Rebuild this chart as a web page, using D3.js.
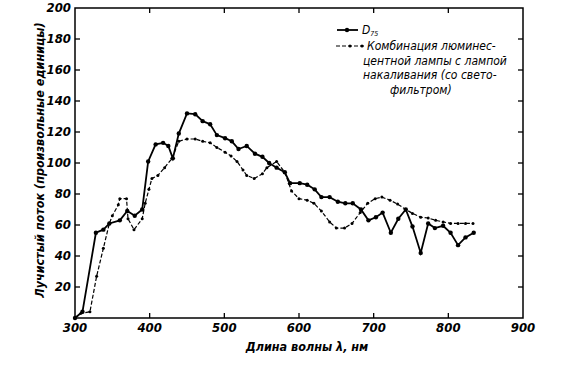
<!DOCTYPE html>
<html>
<head>
<meta charset="utf-8">
<script src="https://cdn.jsdelivr.net/npm/d3@7"></script>
<style>
  body { margin: 0; background: #fff; }
  svg { display: block; }
  text { font-family: "DejaVu Sans Condensed", "DejaVu Sans", sans-serif; font-style: italic; fill: #000; }
</style>
</head>
<body>
<svg id="chart" width="561" height="377"></svg>
<script>
// D75 curve (solid)
const d75Wave = [300, 310, 328, 338, 346, 360, 370, 380, 390, 398, 408, 418, 425, 431, 439, 450, 461, 471, 481, 490, 501, 510, 519, 530, 541, 551, 560, 570, 581, 588, 601, 611, 621, 630, 641, 652, 662, 672, 683, 693, 703, 712, 723, 733, 743, 752, 763, 773, 782, 793, 803, 813, 823, 834];
const d75Flux = [0, 4, 55, 57, 61, 63, 69, 66, 70, 101, 112, 113, 111, 103, 119, 132, 131.5, 127, 125, 118, 116, 114, 109, 111, 106, 104, 100, 97, 94, 87, 87, 86, 83, 78, 78, 75, 74, 74, 70, 63, 65, 68, 55, 64, 70, 59, 42, 61, 58, 59.5, 55, 47, 52, 55];

// fluorescent + incandescent lamp with filter (dashed)
const comboWave = [300, 308, 320, 329, 338, 346, 350, 358, 360, 369, 371, 379, 390, 394, 399, 403, 411, 420, 430, 439, 450, 461, 471, 481, 490, 501, 509, 517, 525, 530, 540, 551, 557, 570, 581, 590, 600, 611, 620, 630, 641, 650, 661, 671, 682, 692, 702, 711, 722, 732, 743, 752, 763, 773, 783, 793, 803, 813, 823, 833];
const comboFlux = [0, 3, 4, 27, 45, 61, 66, 73, 77, 77, 64, 57, 64, 74, 83, 90, 92, 97, 103, 114, 115.5, 115.5, 114, 113, 110, 107, 104.5, 101, 95.5, 92, 90, 93, 97, 101, 94, 82, 77, 76, 74, 69, 62, 58, 58, 61, 68, 74, 77, 78, 76, 73.5, 70, 67.5, 65, 64.5, 63, 62, 61, 61, 61, 61];

const xTicks = [300, 400, 500, 600, 700, 800, 900];
const yTicks = [20, 40, 60, 80, 100, 120, 140, 160, 180, 200];

const legendCombo = ["Комбинация люминес-", "центной лампы с лампой", "накаливания (со свето-", "фильтром)"];

const svg = d3.select("#chart");
const x = d3.scaleLinear().domain([300, 900]).range([75, 523]);
const y = d3.scaleLinear().domain([0, 200]).range([318, 8]);

// frame
svg.append("rect")
    .attr("x", x(300)).attr("y", y(200))
    .attr("width", x(900) - x(300)).attr("height", y(0) - y(200))
    .attr("fill", "none").attr("stroke", "#000").attr("stroke-width", 1.5);

// inward ticks on all four sides
const tickStyle = sel => sel.attr("stroke", "#000").attr("stroke-width", 1.3);
svg.append("g").selectAll("line").data(xTicks.slice(1, -1)).join("line")
    .attr("x1", d => x(d)).attr("x2", d => x(d))
    .attr("y1", y(0)).attr("y2", y(0) - 5).call(tickStyle);
svg.append("g").selectAll("line").data(xTicks.slice(1, -1)).join("line")
    .attr("x1", d => x(d)).attr("x2", d => x(d))
    .attr("y1", y(200)).attr("y2", y(200) + 5).call(tickStyle);
svg.append("g").selectAll("line").data(yTicks.slice(0, -1)).join("line")
    .attr("x1", x(300)).attr("x2", x(300) + 5)
    .attr("y1", d => y(d)).attr("y2", d => y(d)).call(tickStyle);
svg.append("g").selectAll("line").data(yTicks.slice(0, -1)).join("line")
    .attr("x1", x(900)).attr("x2", x(900) - 5)
    .attr("y1", d => y(d)).attr("y2", d => y(d)).call(tickStyle);

// tick labels
svg.append("g").selectAll("text").data(xTicks).join("text")
    .attr("x", d => x(d)).attr("y", y(0) + 14)
    .attr("text-anchor", "middle")
    .attr("font-size", 13).attr("font-weight", "bold")
    .text(d => d);
svg.append("g").selectAll("text").data(yTicks).join("text")
    .attr("x", x(300) - 4).attr("y", d => y(d) + 4)
    .attr("text-anchor", "end")
    .attr("font-size", 13).attr("font-weight", "bold")
    .text(d => d);

// axis titles
svg.append("text")
    .attr("x", 307).attr("y", 351)
    .attr("text-anchor", "middle")
    .attr("font-size", 12.5).attr("font-weight", "bold")
    .text("Длина волны λ, нм");
svg.append("text")
    .attr("transform", "translate(44,160) rotate(-90)")
    .attr("text-anchor", "middle")
    .attr("font-size", 12.5).attr("font-weight", "bold")
    .text("Лучистый поток (произвольные единицы)");

// curves
const d75 = d75Wave.map((w, i) => ({ w, v: d75Flux[i] }));
const combo = comboWave.map((w, i) => ({ w, v: comboFlux[i] }));
const line = d3.line().x(d => x(d.w)).y(d => y(d.v));

svg.append("path").datum(combo)
    .attr("d", line).attr("fill", "none")
    .attr("stroke", "#000").attr("stroke-width", 1.2)
    .attr("stroke-dasharray", "4,2");
svg.append("g").selectAll("circle").data(combo).join("circle")
    .attr("cx", d => x(d.w)).attr("cy", d => y(d.v)).attr("r", 1.5)
    .attr("fill", "#000");

svg.append("path").datum(d75)
    .attr("d", line).attr("fill", "none")
    .attr("stroke", "#000").attr("stroke-width", 1.8);
svg.append("g").selectAll("circle").data(d75).join("circle")
    .attr("cx", d => x(d.w)).attr("cy", d => y(d.v)).attr("r", 2.2)
    .attr("fill", "#000");

// legend
const lg = svg.append("g");
lg.append("line").attr("x1", 337).attr("x2", 358).attr("y1", 30).attr("y2", 30)
    .attr("stroke", "#000").attr("stroke-width", 1.8);
lg.append("circle").attr("cx", 347).attr("cy", 30).attr("r", 2.2).attr("fill", "#000");
const dt = lg.append("text").attr("x", 362).attr("y", 34).attr("font-size", 12).attr("font-style", "normal");
dt.append("tspan").text("D");
dt.append("tspan").attr("font-size", 7).attr("dy", 2).text("75");

lg.append("line").attr("x1", 336).attr("x2", 364).attr("y1", 46).attr("y2", 46)
    .attr("stroke", "#000").attr("stroke-width", 1.2).attr("stroke-dasharray", "4,2");
lg.append("circle").attr("cx", 350).attr("cy", 46).attr("r", 1.5).attr("fill", "#000");
lg.append("circle").attr("cx", 362).attr("cy", 46).attr("r", 1.5).attr("fill", "#000");
lg.selectAll("text.combo").data(legendCombo).join("text")
    .attr("class", "combo")
    .attr("x", (d, i) => i === 0 ? 367 : (i === 3 ? 390 : 363))
    .attr("y", (d, i) => 50 + i * 14.7)
    .attr("font-size", 12).attr("font-weight", "normal")
    .text(d => d);
</script>
</body>
</html>
